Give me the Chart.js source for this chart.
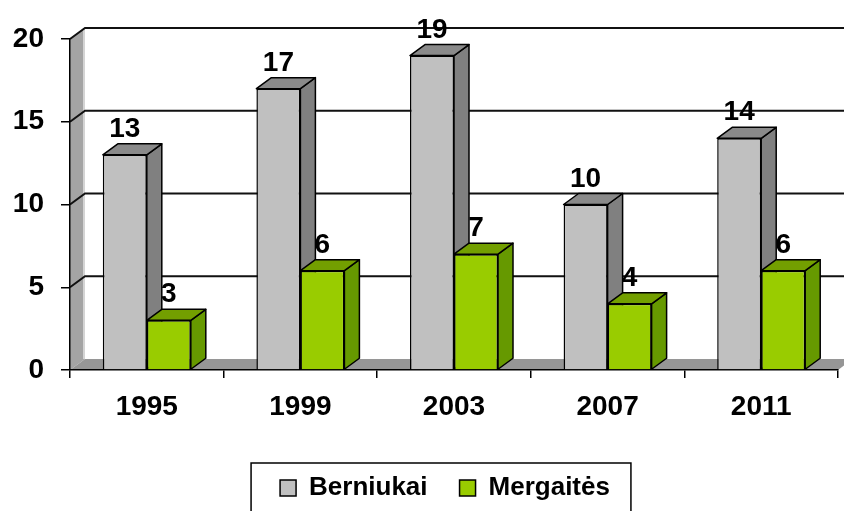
<!DOCTYPE html>
<html>
<head>
<meta charset="utf-8">
<script src="https://cdn.jsdelivr.net/npm/chart.js@4.4.0/dist/chart.umd.min.js"></script>
<style>
  html, body { margin: 0; padding: 0; background: #fff; }
  #wrap { width: 844px; height: 511px; }
</style>
</head>
<body>
<div id="wrap"><canvas id="myBarGraph"></canvas></div>
<script>
// data
var years = ["1995", "1999", "2003", "2007", "2011"];
var berniukai = [13, 17, 19, 10, 14];
var mergaites = [3, 6, 7, 4, 6];
var yTicks = [0, 5, 10, 15, 20];

// depth of the fake 3d effect (px)
var DX = 15, DY = 11;

// side / top colours for each dataset
var faceColors = [
    { side: "#808080", top: "#8a8a8a" },
    { side: "#669900", top: "#739f00" }
];

Chart.defaults.font.family = '"Liberation Sans", Arial, sans-serif';
Chart.defaults.color = "#000";

var box3d = {
    id: "box3d",
    // legend sits a bit right of the centre in the original
    // (hit boxes get rebuilt by the legend plugin in afterUpdate)
    afterLayout: function(chart) {
        var lg = chart.legend;
        if (!lg) return;
        lg.left += 26;
        lg.right += 26;
    },
    // walls, floor and gridlines on the back wall
    beforeDraw: function(chart) {
        var ctx = chart.ctx;
        var area = chart.chartArea;
        var y = chart.scales.y;
        var left = area.left;
        var bottom = y.getPixelForValue(0);
        var top = y.getPixelForValue(20);
        ctx.save();
        // left wall
        ctx.fillStyle = "#a4a4a4";
        ctx.beginPath();
        ctx.moveTo(left, top);
        ctx.lineTo(left + DX, top - DY);
        ctx.lineTo(left + DX, bottom - DY);
        ctx.lineTo(left, bottom);
        ctx.closePath();
        ctx.fill();
        // floor
        ctx.fillStyle = "#969696";
        ctx.beginPath();
        ctx.moveTo(left, bottom);
        ctx.lineTo(left + DX, bottom - DY);
        ctx.lineTo(area.right + DX, bottom - DY);
        ctx.lineTo(area.right, bottom);
        ctx.closePath();
        ctx.fill();
        // light edge of back wall
        ctx.strokeStyle = "#d4d4d4";
        ctx.lineWidth = 2;
        ctx.beginPath();
        ctx.moveTo(left + DX - 1, top - DY);
        ctx.lineTo(left + DX - 1, bottom - DY);
        ctx.stroke();
        // gridlines
        ctx.strokeStyle = "#111";
        ctx.lineWidth = 2;
        for (var i = 0; i < yTicks.length; i++) {
            if (yTicks[i] === 0) continue;
            var py = y.getPixelForValue(yTicks[i]);
            ctx.beginPath();
            ctx.moveTo(left, py);
            ctx.lineTo(left + DX, py - DY);
            ctx.lineTo(chart.width, py - DY);
            ctx.stroke();
        }
        ctx.restore();
    },
    // side and top faces of the bars
    beforeDatasetsDraw: function(chart) {
        var ctx = chart.ctx;
        ctx.save();
        ctx.strokeStyle = "#000";
        ctx.lineWidth = 1.5;
        ctx.lineJoin = "round";
        chart.data.datasets.forEach(function(ds, i) {
            var meta = chart.getDatasetMeta(i);
            meta.data.forEach(function(bar) {
                var p = bar.getProps(["x", "y", "base", "width"], true);
                var l = p.x - p.width / 2, r = p.x + p.width / 2;
                ctx.fillStyle = faceColors[i].side;
                ctx.beginPath();
                ctx.moveTo(r, p.y);
                ctx.lineTo(r + DX, p.y - DY);
                ctx.lineTo(r + DX, p.base - DY);
                ctx.lineTo(r, p.base);
                ctx.closePath();
                ctx.fill();
                ctx.stroke();
                ctx.fillStyle = faceColors[i].top;
                ctx.beginPath();
                ctx.moveTo(l, p.y);
                ctx.lineTo(l + DX, p.y - DY);
                ctx.lineTo(r + DX, p.y - DY);
                ctx.lineTo(r, p.y);
                ctx.closePath();
                ctx.fill();
                ctx.stroke();
            });
        });
        ctx.restore();
    },
    // value labels
    afterDatasetsDraw: function(chart) {
        var ctx = chart.ctx;
        ctx.save();
        ctx.font = 'bold 28px "Liberation Sans", Arial, sans-serif';
        ctx.fillStyle = "#000";
        ctx.textAlign = "center";
        ctx.textBaseline = "alphabetic";
        chart.data.datasets.forEach(function(ds, i) {
            var meta = chart.getDatasetMeta(i);
            meta.data.forEach(function(bar, j) {
                ctx.fillText(String(ds.data[j]), bar.x, bar.y - 18);
            });
        });
        ctx.restore();
    },
    // frame around the legend
    afterDraw: function(chart) {
        var lg = chart.legend;
        var hb = lg.legendHitBoxes;
        if (!hb || !hb.length) return;
        var ctx = chart.ctx;
        var first = hb[0], last = hb[hb.length - 1];
        var l = first.left - 29;
        var r = last.left + last.width + 21;
        var cy = lg.top + lg.options.labels.padding + first.height / 2;
        var t = cy - 25;
        ctx.save();
        ctx.strokeStyle = "#000";
        ctx.lineWidth = 1.5;
        ctx.strokeRect(l, t, r - l, chart.height - t + 10);
        ctx.restore();
    }
};

var ctx = document.getElementById("myBarGraph");
var myBarGraph = new Chart(ctx, {
    type: "bar",
    data: {
        labels: years,
        datasets: [{
                label: "Berniukai",
                data: berniukai,
                backgroundColor: "#c0c0c0",
                borderColor: "#000",
                borderWidth: 1.5
            },
            {
                label: "Mergaitės",
                data: mergaites,
                backgroundColor: "#99cc00",
                borderColor: "#000",
                borderWidth: 1.5
            }
        ]
    },
    options: {
        responsive: true,
        maintainAspectRatio: false,
        animation: false,
        categoryPercentage: 0.573,
        barPercentage: 1,
        layout: {
            padding: { top: 39, right: 6, left: 0, bottom: 0 }
        },
        plugins: {
            tooltip: { enabled: false },
            legend: {
                position: "bottom",
                labels: {
                    boxWidth: 16,
                    boxHeight: 16,
                    padding: 32,
                    font: { size: 26, weight: "bold" }
                }
            }
        },
        scales: {
            x: {
                afterFit: function(scale) { scale.height = 73; },
                grid: {
                    drawOnChartArea: false,
                    tickLength: 8,
                    color: "#000",
                    lineWidth: 1.5
                },
                border: { color: "#000", width: 1.5 },
                ticks: {
                    padding: 12,
                    font: { size: 28, weight: "bold" }
                }
            },
            y: {
                min: 0,
                max: 20,
                afterFit: function(scale) { scale.width = 70; },
                afterBuildTicks: function(scale) {
                    scale.ticks = yTicks.map(function(v) { return { value: v }; });
                },
                grid: {
                    drawOnChartArea: false,
                    tickLength: 9,
                    color: "#000",
                    lineWidth: 1.5
                },
                border: { color: "#000", width: 1.5 },
                ticks: {
                    padding: 17,
                    font: { size: 28, weight: "bold" }
                }
            }
        }
    },
    plugins: [box3d]
});
</script>
</body>
</html>
